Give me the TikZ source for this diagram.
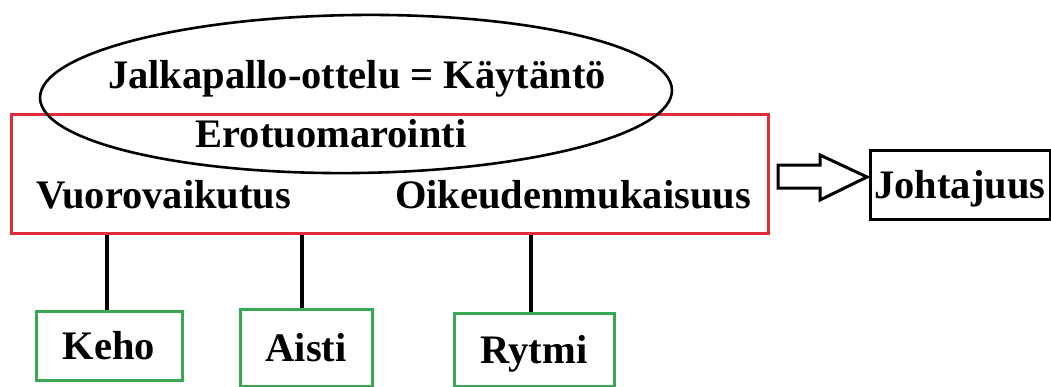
\documentclass[tikz,border=0pt]{standalone}
\usepackage{fontspec}
\setmainfont{Liberation Serif}
\usetikzlibrary{shapes.geometric}
\definecolor{redbox}{RGB}{222,44,56}
\definecolor{greenbox}{RGB}{56,168,84}
\tikzset{
  lbl/.style={font=\fontsize{40.5}{48}\selectfont\bfseries, anchor=base, inner sep=0pt},
  gbox/.style={draw=greenbox, line width=3pt, font=\fontsize{40.5}{48}\selectfont\bfseries,
    text height=27pt, text depth=0pt, inner sep=0pt},
  bbox/.style={draw=black, line width=3pt, font=\fontsize{40.5}{48}\selectfont\bfseries,
    text height=27pt, text depth=0pt, inner sep=0pt},
  link/.style={draw=black, line width=3.5pt},
}
\begin{document}
\begin{tikzpicture}[x=1pt,y=-1pt]
\useasboundingbox (0,0) rectangle (1051,386);
% red rectangle
\node[draw=redbox, line width=3pt, minimum width=757pt, minimum height=119pt, inner sep=0pt] (red) at (389.5,173.5) {};
% ellipse
\node[ellipse, draw=black, line width=2.6pt, minimum width=632pt, minimum height=158pt, inner sep=0pt, rotate=0.7] (ell) at (356,94) {};
% texts
\node[lbl] (jalka) at (357,88) {Jalkapallo-ottelu = Käytäntö};
\node[lbl] (ero) at (331,147) {Erotuomarointi};
\node[lbl] (vuoro) at (164,208) {Vuorovaikutus};
\node[lbl] (oik) at (573,208) {Oikeudenmukaisuus};
% green boxes
\node[gbox, minimum width=146pt, minimum height=69pt] (keho) at (109,345.5) {Keho};
\node[gbox, minimum width=132pt, minimum height=77pt] (aisti) at (306,347.5) {Aisti};
\node[gbox, minimum width=160pt, minimum height=73pt] (rytmi) at (534,349.5) {Rytmi};
% connectors
\draw[link] (red.south -| 107,0) -- (keho.north -| 107,0);
\draw[link] (aisti.north -| 302,0) -- (red.south -| 302,0);
\draw[link] (rytmi.north -| 531,0) -- (red.south -| 531,0);
% Johtajuus
\node[bbox, minimum width=180pt, minimum height=69pt] (joht) at (960,184.5) {Johtajuus};
% block arrow
\draw[line width=3pt, line join=miter] (778,165) -- (820,165) -- (820,155) -- (867,177) -- (820,200) -- (820,188) -- (778,188) -- cycle;
\end{tikzpicture}
\end{document}
